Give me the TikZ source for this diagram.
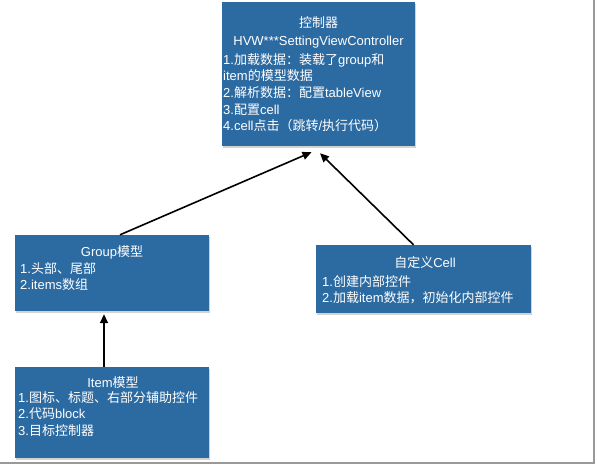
\documentclass[tikz,border=0pt]{standalone}
\usepackage{fontspec}
\setmainfont{Liberation Sans}
\newfontfamily\zh{Noto Sans CJK SC}
\usetikzlibrary{arrows.meta,shadows}
\definecolor{boxblue}{HTML}{2C6AA2}
\tikzset{
	panel/.style={fill=boxblue, inner sep=0pt, drop shadow={shadow xshift=0.5pt, shadow yshift=-1.5pt, opacity=0.35}},
	title/.style={text=white, align=center, inner sep=0pt, font=\fontsize{13}{18}\selectfont},
	body/.style={text=white, align=left, anchor=north west, inner sep=0pt, font=\fontsize{13}{16.7}\selectfont},
	link/.style={line width=1.6pt, -{Triangle[length=9pt,width=8pt]}}
}

\begin{document}
\begin{tikzpicture}[x=1pt,y=-1pt]
	\useasboundingbox (0,0) rectangle (597,467);
	
	% Frame
	\draw[gray!80, line width=1.3pt] (594,0) -- (594,463) -- (0,463);
	
	% Boxes
	\node[panel, minimum width=193pt, minimum height=144pt] (ctrl) at (318.5,74) {};
	\node[panel, minimum width=194pt, minimum height=76pt] (grp) at (112,273) {};
	\node[panel, minimum width=215pt, minimum height=68pt] (cell) at (423.5,279) {};
	\node[panel, minimum width=194pt, minimum height=91pt] (item) at (112,412.5) {};
	
	% Controller text
	\node[title] (ctrltitle) at (318.5,32) {{\zh 控制器}\\HVW***SettingViewController};
	\node[body] (ctrlbody) at (223,53) {1.{\zh 加载数据：装载了}group{\zh 和}\\item{\zh 的模型数据}\\2.{\zh 解析数据：配置}tableView\\3.{\zh 配置}cell\\4.cell{\zh 点击（跳转}/{\zh 执行代码）}};
	
	% Group text
	\node[title] (grptitle) at (112,252) {Group{\zh 模型}};
	\node[body] (grpbody) at (20,262) {1.{\zh 头部、尾部}\\2.items{\zh 数组}};
	
	% Cell text
	\node[title] (celltitle) at (425,263) {{\zh 自定义}Cell};
	\node[body] (cellbody) at (322,275) {1.{\zh 创建内部控件}\\2.{\zh 加载}item{\zh 数据，初始化内部控件}};
	
	% Item text
	\node[title] (itemtitle) at (113,383) {Item{\zh 模型}};
	\node[body] (itembody) at (18,391) {1.{\zh 图标、标题、右部分辅助控件}\\2.{\zh 代码}block\\3.{\zh 目标控制器}};
	
	% Arrows
	\draw[link] ([xshift=8pt]grp.north) -- ([xshift=-7pt,yshift=-6pt]ctrl.south);
	\draw[link] ([xshift=-10pt]cell.north) -- ([xshift=1.5pt,yshift=-7pt]ctrl.south);
	\draw[link] ([xshift=-8pt]item.north) -- ([xshift=-8pt,yshift=-3pt]grp.south);
\end{tikzpicture}
\end{document}
